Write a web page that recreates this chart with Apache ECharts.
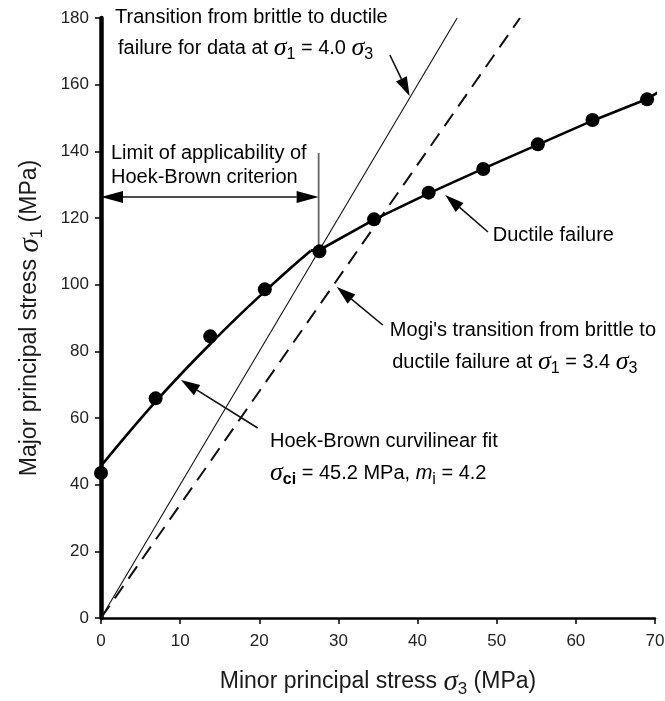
<!DOCTYPE html>
<html>
<head>
<meta charset="utf-8">
<script src="https://cdn.jsdelivr.net/npm/echarts@6/dist/echarts.min.js"></script>
<style>
  html, body { margin: 0; padding: 0; background: #fff; }
  #chart { width: 665px; height: 701px; }
</style>
</head>
<body>
<div id="chart"></div>
<script>
// Triaxial test results: minor vs major principal stress (MPa)
const testSigma3 = [0, 6.9, 13.8, 20.7, 27.6, 34.5, 41.4, 48.3, 55.2, 62.1, 69.0];
const testSigma1 = [43.5, 65.9, 84.5, 98.6, 110.0, 119.6, 127.6, 134.7, 142.1, 149.4, 155.6];

// Hoek-Brown curvilinear fit (brittle range)
const hbFitSigma3 = [0, 3.5, 6.9, 10, 13.8, 17.2, 20.7, 24, 26.5];
const hbFitSigma1 = [45.6, 55.6, 64.9, 72.9, 82.2, 90.2, 98.0, 105.1, 110.2];

// Ductile branch through the high-confinement results
const ductileSigma3 = [26.5, 27.6, 34.5, 41.4, 48.3, 55.2, 62.1, 69.0, 70.3];
const ductileSigma1 = [110.2, 110.4, 119.5, 127.4, 134.8, 142.0, 149.2, 155.7, 157.6];

// Brittle-ductile transition lines sigma1 = k * sigma3
const dataTransitionRatio = 4.0;
const mogiTransitionRatio = 3.4;

// Limit of applicability of the Hoek-Brown criterion
const limitSigma3 = 27.5;
const limitSigma1Range = [111.0, 139.5];
const limitArrowSigma1 = 126.3;

// Axis ticks
const sigma3Ticks = [0, 10, 20, 30, 40, 50, 60, 70];
const sigma1Ticks = [0, 20, 40, 60, 80, 100, 120, 140, 160, 180];

// Leader arrows: [fromSigma3, fromSigma1, toSigma3, toSigma1, headAtBothEnds]
const leaderArrows = [
  [36.5, 168.9, 39.0, 156.6, 0],
  [48.9, 115.8, 43.5, 126.9, 0],
  [35.6, 87.9, 29.8, 99.3, 0],
  [19.8, 57.0, 10.1, 71.4, 0],
  [0, limitArrowSigma1, limitSigma3, limitArrowSigma1, 1]
];

// Callout texts anchored at [sigma3, sigma1] (left edge, vertical middle)
const callouts = [
  [1.77, 180.3, '{t|Transition from brittle to ductile}'],
  [2.15, 171.0, '{t|failure for data at }{s|σ}{b|1}{t| = 4.0 }{s|σ}{b|3}'],
  [1.26, 139.5, '{t|Limit of applicability of}'],
  [1.26, 132.3, '{t|Hoek-Brown criterion}'],
  [49.5, 114.9, '{t|Ductile failure}'],
  [36.5, 86.4, '{t|Mogi\'s transition from brittle to}'],
  [36.8, 76.8, '{t|ductile failure at }{s|σ}{b|1}{t| = 3.4 }{s|σ}{b|3}'],
  [21.35, 53.1, '{t|Hoek-Brown curvilinear fit}'],
  [21.35, 43.5, '{s|σ}{bb|ci}{t| = 45.2 MPa, }{m|m}{b|i}{t| = 4.2}']
];

const SANS = '"Liberation Sans", Arial, Helvetica, sans-serif';
const SERIF = '"Liberation Serif", "Times New Roman", serif';
const INK = '#1a1a1a';

const calloutRich = {
  t: { fontSize: 20, fontFamily: SANS, color: INK, lineHeight: 30 },
  s: { fontSize: 26, fontFamily: SERIF, fontStyle: 'italic', color: INK, lineHeight: 30 },
  m: { fontSize: 20, fontFamily: SANS, fontStyle: 'italic', color: INK, lineHeight: 30 },
  b: { fontSize: 16, fontFamily: SANS, color: INK, lineHeight: 16, verticalAlign: 'bottom' },
  bb: { fontSize: 16, fontFamily: SANS, fontWeight: 'bold', color: INK, lineHeight: 16, verticalAlign: 'bottom' }
};

const axisNameRich = {
  t: { fontSize: 23, fontFamily: SANS, color: INK, lineHeight: 32 },
  s: { fontSize: 29, fontFamily: SERIF, fontStyle: 'italic', color: INK, lineHeight: 32 },
  b: { fontSize: 17, fontFamily: SANS, color: INK, lineHeight: 17, verticalAlign: 'bottom' }
};

const zip = (xs, ys) => xs.map((x, i) => [x, ys[i]]);
const sigma1Top = sigma1Ticks[sigma1Ticks.length - 1];
const ratioLine = k => [[0, 0], [sigma1Top / k, sigma1Top]];

const chart = echarts.init(document.getElementById('chart'), null, { renderer: 'canvas' });

// Straight leader with a solid triangular head (optionally at both ends)
function renderArrow(params, api) {
  const a = api.coord([api.value(0), api.value(1)]);
  const b = api.coord([api.value(2), api.value(3)]);
  const both = api.value(4) === 1;
  const dx = b[0] - a[0], dy = b[1] - a[1];
  const len = Math.hypot(dx, dy);
  const ux = dx / len, uy = dy / len;
  const nx = -uy, ny = ux;
  const headLen = both ? 22 : 19;
  const halfW = 6;
  const children = [];
  const head = (tip, dir) => {
    const bx = tip[0] - dir[0] * headLen, by = tip[1] - dir[1] * headLen;
    children.push({
      type: 'polygon',
      shape: { points: [tip, [bx + nx * halfW, by + ny * halfW], [bx - nx * halfW, by - ny * halfW]] },
      style: { fill: '#000' }
    });
    return [bx, by];
  };
  const end = head(b, [ux, uy]);
  const start = both ? head(a, [-ux, -uy]) : a;
  children.unshift({
    type: 'line',
    shape: { x1: start[0], y1: start[1], x2: end[0], y2: end[1] },
    style: { stroke: '#111', lineWidth: 1.6 }
  });
  return { type: 'group', children };
}

chart.setOption({
  animation: false,
  backgroundColor: '#fff',
  grid: { left: 101, right: 10, top: 18, bottom: 83, containLabel: false, outerBoundsMode: 'none' },
  xAxis: {
    type: 'value',
    min: sigma3Ticks[0],
    max: sigma3Ticks[sigma3Ticks.length - 1],
    interval: sigma3Ticks[1] - sigma3Ticks[0],
    splitLine: { show: false },
    axisLine: { onZero: false, lineStyle: { color: '#000', width: 2.5 } },
    axisTick: { length: 6, lineStyle: { color: '#000', width: 1.5 } },
    axisLabel: { fontSize: 17, fontFamily: SANS, color: '#222', margin: 15 },
    name: '{t|Minor principal stress }{s|σ}{b|3}{t| (MPa)}',
    nameLocation: 'middle',
    nameGap: 48,
    nameTextStyle: { rich: axisNameRich }
  },
  yAxis: {
    type: 'value',
    min: sigma1Ticks[0],
    max: sigma1Top,
    interval: sigma1Ticks[1] - sigma1Ticks[0],
    splitLine: { show: false },
    axisLine: { onZero: false, lineStyle: { color: '#000', width: 4.5 } },
    axisTick: { length: 6, lineStyle: { color: '#000', width: 1.5 } },
    axisLabel: { fontSize: 17, fontFamily: SANS, color: '#222', margin: 12 },
    name: '{t|Major principal stress }{s|σ}{b|1}{t| (MPa)}',
    nameLocation: 'middle',
    nameRotate: 90,
    nameGap: 55,
    nameTextStyle: { rich: axisNameRich }
  },
  series: [
    {
      name: 'σ1 = 4.0 σ3',
      type: 'line',
      data: ratioLine(dataTransitionRatio),
      symbol: 'none',
      lineStyle: { color: '#111', width: 1.1 },
      z: 2
    },
    {
      name: 'Mogi σ1 = 3.4 σ3',
      type: 'line',
      data: ratioLine(mogiTransitionRatio),
      symbol: 'none',
      lineStyle: { color: '#111', width: 2, type: [15, 9] },
      z: 2
    },
    {
      name: 'Hoek-Brown fit',
      type: 'line',
      data: zip(hbFitSigma3, hbFitSigma1),
      symbol: 'none',
      smooth: 0.35,
      lineStyle: { color: '#000', width: 2.6 },
      z: 3
    },
    {
      name: 'Ductile failure',
      type: 'line',
      data: zip(ductileSigma3, ductileSigma1),
      symbol: 'none',
      lineStyle: { color: '#000', width: 2.6 },
      z: 3
    },
    {
      name: 'Limit',
      type: 'line',
      data: [[limitSigma3, limitSigma1Range[0]], [limitSigma3, limitSigma1Range[1]]],
      symbol: 'none',
      lineStyle: { color: '#666', width: 1.8 },
      z: 2
    },
    {
      name: 'Test data',
      type: 'scatter',
      data: zip(testSigma3, testSigma1),
      symbol: 'circle',
      symbolSize: 14,
      itemStyle: { color: '#000', opacity: 1 },
      z: 5
    },
    {
      name: 'Leaders',
      type: 'custom',
      renderItem: renderArrow,
      data: leaderArrows,
      clip: false,
      z: 4
    }
  ]
});

chart.setOption({
  graphic: callouts.map(([s3, s1, text]) => {
    const p = chart.convertToPixel({ gridIndex: 0 }, [s3, s1]);
    return {
      type: 'text',
      x: p[0],
      y: p[1],
      z: 10,
      style: { text, rich: calloutRich, align: 'left', verticalAlign: 'middle' }
    };
  })
});
</script>
</body>
</html>
